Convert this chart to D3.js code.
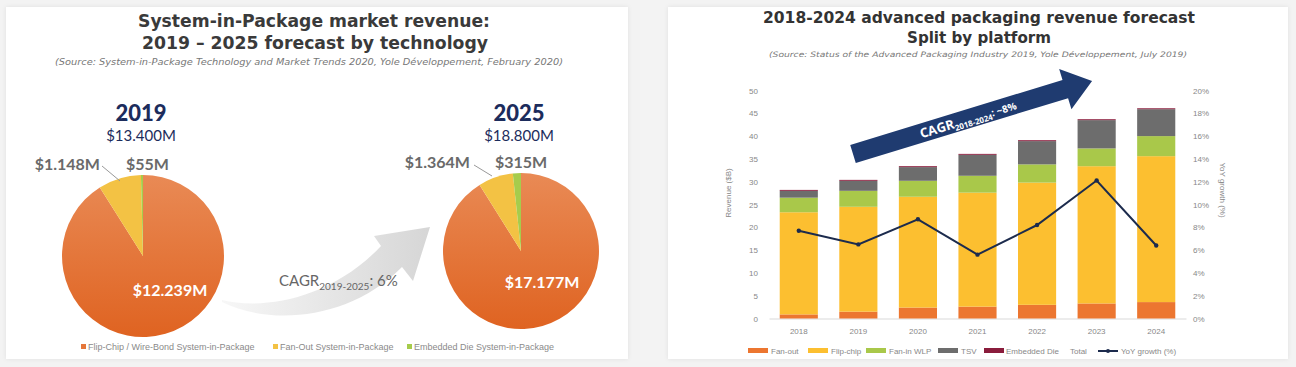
<!DOCTYPE html>
<html><head><meta charset="utf-8">
<script src="https://cdn.jsdelivr.net/npm/d3@7"></script>
<style>
body{margin:0;background:#f3f3f3;}
svg{display:block;}
</style></head><body>
<svg id="c" width="1296" height="367"></svg>
<script>
// ---------- DATA ----------
const sipCategories = ["Flip-Chip / Wire-Bond System-in-Package","Fan-Out System-in-Package","Embedded Die System-in-Package"];
const sipYears = ["2019","2025"];
const sipTotals = ["$13.400M","$18.800M"];
const sip2019 = [12239, 1148, 55];
const sip2025 = [17177, 1364, 315];
const sipLabels2019 = ["$12.239M","$1.148M","$55M"];
const sipLabels2025 = ["$17.177M","$1.364M","$315M"];

const years = ["2018","2019","2020","2021","2022","2023","2024"];
const platforms = ["Fan-out","Flip-chip","Fan-in WLP","TSV","Embedded Die"];
const fanOut    = [0.9, 1.5, 2.4, 2.6, 3.0, 3.3, 3.6];
const flipChip  = [22.4, 23.0, 24.3, 25.0, 26.8, 30.1, 32.0];
const fanInWLP  = [3.2, 3.5, 3.5, 3.7, 4.0, 3.9, 4.4];
const tsv       = [1.5, 2.2, 3.0, 4.6, 5.1, 6.2, 5.9];
const embedded  = [0.2, 0.2, 0.2, 0.2, 0.2, 0.2, 0.2];
const yoyGrowth = [7.7, 6.5, 8.7, 5.6, 8.2, 12.1, 6.4];
const revenueTicks = [0,5,10,15,20,25,30,35,40,45,50];
const growthTicks = [0,2,4,6,8,10,12,14,16,18,20];

// ---------- SETUP ----------
const svg = d3.select("#c");
const defs = svg.append("defs");
const f = defs.append("filter").attr("id","sh").attr("x","-5%").attr("y","-5%").attr("width","110%").attr("height","110%");
f.append("feDropShadow").attr("dx",0).attr("dy",0).attr("stdDeviation",2).attr("flood-color","#000").attr("flood-opacity",0.08);

const og = defs.append("linearGradient").attr("id","orangeG").attr("x1",0).attr("y1",0).attr("x2",0).attr("y2",1);
og.append("stop").attr("offset","0%").attr("stop-color","#e98a55");
og.append("stop").attr("offset","100%").attr("stop-color","#df6321");
const gg = defs.append("linearGradient").attr("id","grayArrow").attr("x1",0).attr("y1",0).attr("x2",1).attr("y2",0);
gg.append("stop").attr("offset","0%").attr("stop-color","#f7f7f7");
gg.append("stop").attr("offset","100%").attr("stop-color","#d6d6d6");

svg.append("rect").attr("x",6).attr("y",7).attr("width",622).attr("height",352).attr("fill","#fff").attr("filter","url(#sh)");
svg.append("rect").attr("x",668).attr("y",7).attr("width",620).attr("height",352).attr("fill","#fff").attr("filter","url(#sh)");

// ---------- LEFT PANEL ----------
const L = svg.append("g");
L.append("text").attr("x",314).attr("y",27).attr("text-anchor","middle")
 .style("font","bold 17px 'DejaVu Sans'").attr("fill","#3a3a3a").attr("textLength",352).attr("lengthAdjust","spacingAndGlyphs")
 .text("System-in-Package market revenue:");
L.append("text").attr("x",315).attr("y",49).attr("text-anchor","middle")
 .style("font","bold 17px 'DejaVu Sans'").attr("fill","#3a3a3a").attr("textLength",346).attr("lengthAdjust","spacingAndGlyphs")
 .text("2019 \u2013 2025 forecast by technology");
L.append("text").attr("x",309).attr("y",65).attr("text-anchor","middle")
 .style("font","italic 8px 'DejaVu Sans'").attr("fill","#777").attr("textLength",508).attr("lengthAdjust","spacingAndGlyphs")
 .text("(Source: System-in-Package Technology and Market Trends 2020, Yole D\u00e9veloppement, February 2020)");

const sipColors = ["url(#orangeG)","#f3c244","#a6cc4c"];
const legendColors = ["#e5763a","#f3c244","#a6cc4c"];

// gray curved arrow
L.append("path")
 .attr("d","M222,300 C262,310 330,300 381,246 L374,236 L430,227 L413,281 L402,267 C350,320 270,326 222,302 Z")
 .attr("fill","url(#grayArrow)");
const cagr = L.append("text").attr("x",279).attr("y",286).style("font","15px Lato").attr("fill","#666");
cagr.append("tspan").text("CAGR");
cagr.append("tspan").attr("dy",4).style("font-size","10px").text("2019-2025");
cagr.append("tspan").attr("dy",-4).text(": 6%");

const pieGen = d3.pie().sort(null).value(d=>d).startAngle(0).endAngle(2*Math.PI);
const pies = [
  {data:sip2019, labels:sipLabels2019, cx:143, cy:256, r:81, year:sipYears[0], total:sipTotals[0],
   big:[170,296], mid:[100,170], small:[126,170], lead:[[102,166],[120,181]]},
  {data:sip2025, labels:sipLabels2025, cx:521, cy:251, r:78, year:sipYears[1], total:sipTotals[1],
   big:[542,288], mid:[470,168], small:[495,168], lead:[[474,165],[492,176]]}
];
pies.forEach(p=>{
  const g = L.append("g").attr("transform",`translate(${p.cx},${p.cy})`);
  const arc = d3.arc().innerRadius(0).outerRadius(p.r);
  g.selectAll("path").data(pieGen(p.data)).join("path")
   .attr("d",arc).attr("fill",(d,i)=>sipColors[i]);
  L.append("text").attr("x",p.cx-2).attr("y",121).attr("text-anchor","middle")
   .style("font","900 22px Lato").attr("fill","#1c2c5c").text(p.year);
  L.append("text").attr("x",p.cx-2).attr("y",141).attr("text-anchor","middle")
   .style("font","15px Lato").attr("fill","#1c2c5c").text(p.total);
  L.append("text").attr("x",p.big[0]).attr("y",p.big[1]).attr("text-anchor","middle")
   .style("font","bold 16px Lato").attr("fill","#fff").text(p.labels[0]);
  L.append("text").attr("x",p.mid[0]).attr("y",p.mid[1]).attr("text-anchor","end")
   .style("font","bold 16px Lato").attr("fill","#6a6a6a").text(p.labels[1]);
  L.append("text").attr("x",p.small[0]).attr("y",p.small[1]).attr("text-anchor","start")
   .style("font","bold 16px Lato").attr("fill","#6a6a6a").text(p.labels[2]);
  L.append("line").attr("x1",p.lead[0][0]).attr("y1",p.lead[0][1]).attr("x2",p.lead[1][0]).attr("y2",p.lead[1][1])
   .attr("stroke","#999").attr("stroke-width",1);
});

const legX = [81, 273, 407];
sipCategories.forEach((c,i)=>{
  L.append("rect").attr("x",legX[i]).attr("y",344).attr("width",5).attr("height",5).attr("fill",legendColors[i]);
  L.append("text").attr("x",legX[i]+7).attr("y",350).style("font","9px 'Liberation Sans'").attr("fill","#8a8a8a").text(c);
});

// ---------- RIGHT PANEL ----------
const R = svg.append("g");
R.append("text").attr("x",979).attr("y",23).attr("text-anchor","middle")
 .style("font","bold 16px 'DejaVu Sans'").attr("fill","#333").attr("textLength",432).attr("lengthAdjust","spacingAndGlyphs")
 .text("2018-2024 advanced packaging revenue forecast");
R.append("text").attr("x",979).attr("y",43).attr("text-anchor","middle")
 .style("font","bold 16px 'DejaVu Sans'").attr("fill","#333").attr("textLength",144).attr("lengthAdjust","spacingAndGlyphs")
 .text("Split by platform");
R.append("text").attr("x",978).attr("y",57).attr("text-anchor","middle")
 .style("font","italic 7.5px 'DejaVu Sans'").attr("fill","#777").attr("textLength",418).attr("lengthAdjust","spacingAndGlyphs")
 .text("(Source: Status of the Advanced Packaging Industry 2019, Yole D\u00e9veloppement, July 2019)");

const x = d3.scaleBand().domain(years).range([769,1186]).paddingInner(0.36).paddingOuter(0.18);
const y = d3.scaleLinear().domain([0,50]).range([318.5,90.5]);
const y2 = d3.scaleLinear().domain([0,20]).range([318.5,90.5]);

const rows = years.map((yr,i)=>({year:yr,"Fan-out":fanOut[i],"Flip-chip":flipChip[i],"Fan-in WLP":fanInWLP[i],"TSV":tsv[i],"Embedded Die":embedded[i]}));
const stacked = d3.stack().keys(platforms)(rows);
const platColors = {"Fan-out":"#ec7630","Flip-chip":"#fcbf30","Fan-in WLP":"#a9c84a","TSV":"#6d6d6d","Embedded Die":"#8a1c3c"};

// axes
const axStyle = g=>{g.select(".domain").remove(); g.selectAll("text").style("font","8px 'Liberation Sans'").attr("fill","#888");};
R.append("g").attr("transform","translate(767,0)").call(d3.axisLeft(y).tickValues(revenueTicks).tickSize(0).tickPadding(9)).call(axStyle);
R.append("g").attr("transform","translate(1186,0)").call(d3.axisRight(y2).tickValues(growthTicks).tickSize(0).tickPadding(7).tickFormat(d=>d+"%")).call(axStyle);
const xa = R.append("g").attr("transform","translate(0,318.5)").call(d3.axisBottom(x).tickSize(0).tickPadding(10));
xa.select(".domain").attr("stroke","#d9d9d9");
xa.selectAll("text").style("font","8px 'Liberation Sans'").attr("fill","#888");

R.append("text").attr("transform","translate(731,193) rotate(-90)").attr("text-anchor","middle")
 .style("font","8px 'Liberation Sans'").attr("fill","#888").text("Revenue ($B)");
R.append("text").attr("transform","translate(1220,190) rotate(90)").attr("text-anchor","middle")
 .style("font","8px 'Liberation Sans'").attr("fill","#888").text("YoY growth (%)");

R.append("g").selectAll("g").data(stacked).join("g").attr("fill",d=>platColors[d.key])
 .selectAll("rect").data(d=>d).join("rect")
 .attr("x",d=>x(d.data.year)).attr("width",x.bandwidth())
 .attr("y",d=>y(d[1])).attr("height",d=>y(d[0])-y(d[1]));

// navy CAGR arrow
const A = R.append("g").attr("transform","translate(853,154) rotate(-17)");
A.append("path").attr("d","M0,-9.5 L222,-9.5 L222,-21 L250,0 L222,21 L222,9.5 L0,9.5 Z").attr("fill","#1f3b70");
const at = A.append("text").attr("x",70).attr("y",5).style("font","bold 13px 'Open Sans'").attr("fill","#fff");
at.append("tspan").text("CAGR");
at.append("tspan").attr("dy",3).style("font-size","8px").text("2018-2024");
at.append("tspan").attr("dy",-3).style("font-size","10px").text(": ~8%");

// YoY line
const line = d3.line().x((d,i)=>x(years[i])+x.bandwidth()/2).y(d=>y2(d));
R.append("path").datum(yoyGrowth).attr("d",line).attr("fill","none").attr("stroke","#1c2b4d").attr("stroke-width",2);
R.append("g").selectAll("circle").data(yoyGrowth).join("circle")
 .attr("cx",(d,i)=>x(years[i])+x.bandwidth()/2).attr("cy",d=>y2(d)).attr("r",2.2).attr("fill","#1c2b4d");

// legend
const lg = R.append("g").style("font","8px 'Liberation Sans'");
const legItems = [
  {k:"Fan-out",rx:748,tx:771},{k:"Flip-chip",rx:808,tx:831},{k:"Fan-in WLP",rx:866,tx:889},
  {k:"TSV",rx:938,tx:961},{k:"Embedded Die",rx:984,tx:1006}
];
legItems.forEach(it=>{
  lg.append("rect").attr("x",it.rx).attr("y",348).attr("width",20).attr("height",5).attr("fill",platColors[it.k]);
  lg.append("text").attr("x",it.tx).attr("y",354).attr("fill","#888").text(it.k);
});
lg.append("text").attr("x",1070).attr("y",354).attr("fill","#888").text("Total");
lg.append("line").attr("x1",1098).attr("x2",1118).attr("y1",351).attr("y2",351).attr("stroke","#1c2b4d").attr("stroke-width",2);
lg.append("circle").attr("cx",1108).attr("cy",351).attr("r",2).attr("fill","#1c2b4d");
lg.append("text").attr("x",1121).attr("y",354).attr("fill","#888").text("YoY growth (%)");
</script>
</body></html>
